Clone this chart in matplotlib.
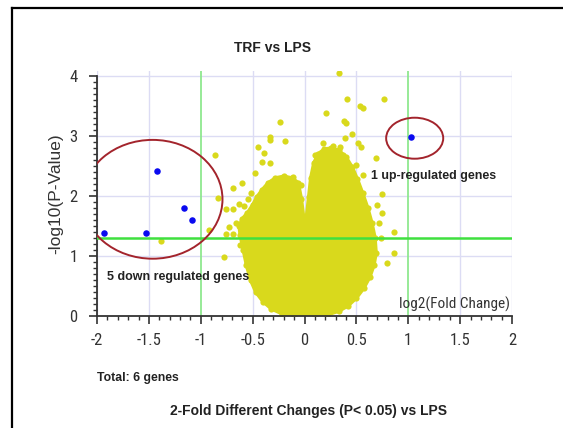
import matplotlib
matplotlib.use("Agg")
import matplotlib.pyplot as plt
from matplotlib import font_manager as fm
from matplotlib.patches import Ellipse
from matplotlib.lines import Line2D
from matplotlib.ticker import MultipleLocator

# ---- data -------------------------------------------------------------
# dense core of the volcano (log2 fold change, -log10 p) traced as an outline
cloud_x = [-0.10, -0.22, -0.32, -0.40, -0.47, -0.52, -0.56, -0.59, -0.62, -0.63,
           -0.60, -0.55, -0.50, -0.46, -0.41, -0.35, -0.28, -0.20, -0.12, -0.06,
           -0.03, -0.005, 0.015, 0.04, 0.06, 0.09, 0.13, 0.19, 0.26, 0.33,
           0.40, 0.46, 0.51, 0.56, 0.61, 0.65, 0.68, 0.69, 0.67, 0.63,
           0.57, 0.50, 0.42, 0.33, 0.22, 0.10]
cloud_y = [0.00, 0.04, 0.12, 0.24, 0.40, 0.60, 0.85, 1.10, 1.35, 1.50,
           1.62, 1.72, 1.85, 1.98, 2.10, 2.22, 2.30, 2.33, 2.30, 2.22,
           1.95, 1.60, 1.60, 1.98, 2.30, 2.55, 2.70, 2.78, 2.80, 2.76,
           2.65, 2.48, 2.28, 2.05, 1.80, 1.55, 1.30, 1.05, 0.85, 0.65,
           0.46, 0.30, 0.17, 0.08, 0.02, 0.00]

# non-significant genes lying outside the dense core
ns_x = [-0.865, -0.60, -0.687, -0.835, -0.76, -0.687, -0.63, -0.58, -0.725, -0.92,
        -0.76, -0.69, -0.62, -0.775, -1.38, -0.445, -0.33, -0.33, -0.185, -0.235,
        -0.477, -0.395, -0.41, -0.33, -0.54, -0.52, -0.66,
        0.336, 0.41, 0.535, 0.56, 0.77, 0.21, 0.38, 0.40, 0.455,
        0.39, 0.52, 0.545, 0.69, 0.18, 0.10, 0.27, 0.34, 0.375,
        0.50, 0.565, -0.11, -0.03, 0.745, 0.75, 0.86, 0.865, 0.795,
        0.72, 0.74, 0.70]
ns_y = [2.69, 2.21, 2.13, 1.96, 1.78, 1.78, 1.87, 1.83, 1.49, 1.43,
        1.36, 1.36, 1.18, 0.99, 1.25, 2.82, 2.98, 2.93, 2.92, 3.24,
        2.38, 2.71, 2.57, 2.55, 1.95, 2.05, 1.55,
        4.05, 3.61, 3.50, 3.47, 3.61, 3.38, 3.25, 3.21, 3.03,
        2.97, 2.88, 2.82, 2.64, 2.88, 2.69, 2.83, 2.82, 2.68,
        2.52, 2.35, 2.32, 2.18, 2.03, 1.71, 1.40, 1.05, 0.89,
        1.55, 1.30, 1.85]

# significant genes
down_x = [-1.93, -1.527, -1.424, -1.163, -1.086]
down_y = [1.38, 1.38, 2.42, 1.80, 1.60]
up_x = [1.028]
up_y = [2.99]

fc_cut = 1.0
p_cut = 1.301  # -log10(0.05)

x_ticks = [-2, -1.5, -1, -0.5, 0, 0.5, 1, 1.5, 2]
x_tick_labels = ["-2", "-1.5", "-1", "-0.5", "0", "0.5", "1", "1.5", "2"]
y_ticks = [0, 1, 2, 3, 4]
y_tick_labels = ["0", "1", "2", "3", "4"]

# ---- fonts ------------------------------------------------------------
SANS = ["Liberation Sans", "DejaVu Sans"]


def narrow_font():
    """Find a condensed sans face for the axis numbers; fall back to DejaVu."""
    prefs = ["Liberation Sans Narrow", "Arial Narrow", "Roboto Condensed",
             "DejaVu Sans Condensed", "Open Sans Condensed", "Noto Sans Condensed",
             "Nimbus Sans Narrow"]
    best, best_rank = None, len(prefs) + 1
    for f in fm.fontManager.ttflist:
        label = f"{f.name} {f.fname}"
        condensed = ("Narrow" in label or "Condensed" in label
                     or str(f.stretch).lower() in ("condensed", "semi-condensed"))
        if not condensed or f.style != "normal":
            continue
        w = f.weight if isinstance(f.weight, int) else {"normal": 400, "regular": 400}.get(str(f.weight), 700)
        if w != 400:
            continue
        rank = len(prefs)
        for i, p in enumerate(prefs):
            if f.name.startswith(p.split()[0]) and ("Narrow" in label or "Condensed" in label):
                rank = min(rank, i)
        if rank < best_rank:
            best, best_rank = f.fname, rank
    if best is None:
        return fm.FontProperties(family="DejaVu Sans"), False
    return fm.FontProperties(fname=best), True


NARROW_FP, HAS_NARROW = narrow_font()
TICK_SIZE = 12 if HAS_NARROW else 10.5

# ---- styling ----------------------------------------------------------
YELLOW = "#d9d91c"
BLUE = "#0a0af0"
RED = "#a3242c"
GRID = "#dcdcf4"
INK = "#333333"

fig = plt.figure(figsize=(5.63, 4.28), dpi=100)
ax = fig.add_axes([97 / 563, 1 - 316 / 428, 415 / 563, 245 / 428])
ax.set_xlim(-2, 2)
ax.set_ylim(0, 4.083)

# grid
for gx in x_ticks:
    if abs(gx) != fc_cut:
        ax.axvline(gx, color=GRID, lw=1.0, zorder=0)
for gy in y_ticks[1:]:
    ax.plot([-2, 2], [gy, gy], color=GRID, lw=1.0, zorder=0)

# fold-change cut-offs
ax.axvline(-fc_cut, color="#8fe88f", lw=1.3, zorder=1)
ax.axvline(fc_cut, color="#8fe88f", lw=1.3, zorder=1)

# volcano cloud
ax.fill(cloud_x, cloud_y, color=YELLOW, lw=2.5, ec=YELLOW, zorder=2)
ax.scatter(cloud_x, cloud_y, s=20, color=YELLOW, lw=0, zorder=2)
ax.scatter(ns_x, ns_y, s=20, color=YELLOW, lw=0, zorder=2)

# p-value cut-off
ax.plot([-2, 2], [p_cut, p_cut], color="#3fe03f", lw=1.8, zorder=3)

# significant genes
ax.scatter(down_x, down_y, s=22, color=BLUE, lw=0, zorder=4)
ax.scatter(up_x, up_y, s=22, color=BLUE, lw=0, zorder=4)

# highlight ellipses
ax.add_patch(Ellipse((-1.464, 1.945), 1.347, 1.98, fill=False, ec=RED, lw=1.4, zorder=5))
ax.add_patch(Ellipse((1.062, 2.963), 0.55, 0.683, fill=False, ec=RED, lw=1.4, zorder=5))

# axes / spines
for side in ("top", "right"):
    ax.spines[side].set_visible(False)
ax.spines["left"].set_bounds(0, 4)
for side in ("left", "bottom"):
    ax.spines[side].set_color(INK)
    ax.spines[side].set_linewidth(1.3)

ax.set_xticks(x_ticks)
ax.set_xticklabels(x_tick_labels)
ax.set_yticks(y_ticks)
ax.set_yticklabels(y_tick_labels)
for lbl in ax.get_xticklabels() + ax.get_yticklabels():
    lbl.set_fontproperties(NARROW_FP)
    lbl.set_fontsize(TICK_SIZE)
    lbl.set_color(INK)
ax.xaxis.set_minor_locator(MultipleLocator(0.1))
ax.yaxis.set_minor_locator(MultipleLocator(0.1))
ax.tick_params(axis="both", which="major", direction="out", length=6, width=1.2,
               color=INK)
ax.tick_params(axis="x", which="major", pad=6)
ax.tick_params(axis="y", which="major", pad=8)
ax.tick_params(axis="both", which="minor", direction="out", length=3, width=1.0,
               color=INK)
ax.set_ylabel("-log10(P-Value)", family=SANS, fontsize=12.5, labelpad=4, color=INK)

xl = ax.text(1.98, 0.12, "log2(Fold Change)", ha="right", va="baseline", color=INK)
xl.set_fontproperties(NARROW_FP)
xl.set_fontsize(11 if HAS_NARROW else 9.5)

ax.text(-1.905, 0.6, "5 down regulated genes", ha="left", family=SANS,
        fontsize=9.0, fontweight="bold", color="#222222")
ax.text(0.64, 2.28, "1 up-regulated genes", ha="left", family=SANS,
        fontsize=8.9, fontweight="bold", color="#222222")

fig.text(272 / 563, 1 - 48 / 428, "TRF vs LPS", ha="center", va="center",
         family=SANS, fontsize=10, fontweight="bold", color="#222222")
fig.text(97 / 563, 1 - 378 / 428, "Total: 6 genes", ha="left", va="center",
         family=SANS, fontsize=8.8, fontweight="bold", color="#222222")
fig.text(309 / 563, 1 - 411 / 428, "2-Fold Different Changes (P< 0.05) vs LPS",
         ha="center", va="center", family=SANS, fontsize=10, fontweight="bold",
         color="#222222")

# frame around the panel
fig.add_artist(Line2D([11.5 / 563, 1.0], [1 - 7.5 / 428] * 2, color="black", lw=1.6))
fig.add_artist(Line2D([11.5 / 563] * 2, [0.0, 1 - 7.5 / 428], color="black", lw=1.6))

fig.savefig("out.png", dpi=100)
